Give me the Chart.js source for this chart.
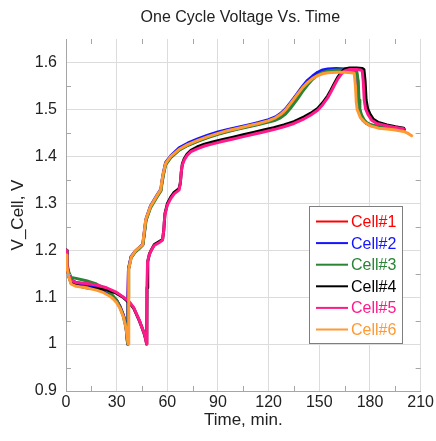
<!DOCTYPE html>
<html><head><meta charset="utf-8">
<script src="https://cdn.jsdelivr.net/npm/chart.js@4/dist/chart.umd.min.js"></script>
<style>html,body{margin:0;padding:0;background:#fff}canvas{display:block}</style>
</head><body>
<canvas id="c" width="436" height="441"></canvas>
<script>
const chartTitle = 'One Cycle Voltage Vs. Time';
const seriesLabels = ['Cell#1','Cell#2','Cell#3','Cell#4','Cell#5','Cell#6'];
const seriesColors = ['#ff0000','#1414ff','#2a8436','#000000','#ff1a8c','#ff9933'];
const xTicks = [0,30,60,90,120,150,180,210];
const yTicks = [0.9,1,1.1,1.2,1.3,1.4,1.5,1.6];

const cell1 = [[0,1.2],[0.5,1.17],[1.5,1.15],[3,1.136],[6,1.13],[12,1.127],[18,1.121],[22,1.115],[26,1.107],[28,1.1],[30,1.093],[32,1.08],[34,1.062],[35.5,1.04],[36.5,1.0],[36.7,1.1],[37,1.16],[38.5,1.185],[41,1.197],[43.5,1.205],[45.5,1.212],[46.3,1.235],[47.3,1.264],[50,1.292],[54,1.316],[56.2,1.328],[56.8,1.345],[57.7,1.363],[59,1.384],[62,1.398],[67,1.414],[72,1.424],[78,1.433],[84,1.441],[90,1.448],[96,1.454],[102,1.459],[108,1.464],[114,1.469],[120,1.475],[124,1.481],[127,1.488],[130,1.498],[133,1.512],[137,1.531],[140,1.546],[143,1.559],[146,1.568],[149,1.576],[152,1.581],[155,1.583],[160,1.584],[165,1.584],[169,1.582],[172,1.58],[172.8,1.56],[173.3,1.52],[173.8,1.5],[174.8,1.486],[176,1.477],[178,1.47],[180,1.466],[184,1.463],[188,1.461],[192,1.46],[196,1.459],[200.5,1.457]];
const cell2 = [[0,1.2],[0.5,1.17],[1.5,1.15],[3,1.137],[6,1.131],[12,1.127],[18,1.121],[22,1.116],[26,1.108],[28,1.1],[30,1.093],[32,1.08],[34,1.061],[35.5,1.04],[36.5,1.0],[36.7,1.1],[37,1.16],[38.5,1.186],[41,1.198],[43.5,1.206],[45.5,1.213],[46.3,1.237],[47.3,1.266],[50,1.294],[54,1.318],[56.2,1.33],[56.8,1.347],[57.7,1.366],[59,1.387],[62,1.401],[67,1.418],[72,1.428],[78,1.437],[84,1.445],[90,1.452],[96,1.457],[102,1.462],[108,1.467],[114,1.472],[120,1.478],[124,1.484],[127,1.491],[130,1.501],[133,1.515],[137,1.534],[140,1.549],[143,1.562],[146,1.571],[149,1.579],[152,1.584],[155,1.586],[160,1.587],[165,1.586],[169,1.584],[171.8,1.581],[172.5,1.56],[173,1.52],[173.5,1.5],[174.5,1.486],[176,1.476],[178,1.47],[180,1.467],[184,1.464],[188,1.462],[192,1.461],[196,1.46],[198.5,1.459]];
const cell3 = [[0,1.2],[0.5,1.175],[1.5,1.155],[3,1.142],[6,1.14],[12,1.135],[18,1.128],[22,1.12],[26,1.11],[28,1.102],[30,1.093],[32,1.078],[34,1.058],[35.5,1.035],[36.6,1.0],[36.8,1.1],[37.1,1.16],[38.6,1.184],[41,1.196],[43.5,1.204],[45.5,1.211],[46.4,1.234],[47.4,1.263],[50,1.29],[54,1.314],[56.3,1.327],[56.9,1.344],[57.8,1.362],[59,1.382],[62,1.397],[67,1.413],[72,1.423],[78,1.432],[84,1.44],[90,1.447],[96,1.453],[102,1.458],[108,1.463],[114,1.468],[120,1.473],[124,1.477],[127,1.482],[130,1.49],[133,1.503],[137,1.522],[140,1.538],[143,1.552],[146,1.564],[149,1.573],[152,1.579],[155,1.582],[160,1.584],[165,1.584],[169,1.582],[172.2,1.58],[173,1.56],[173.5,1.52],[174,1.501],[175,1.488],[176.5,1.478],[178,1.472],[180,1.468],[184,1.464],[188,1.462],[192,1.46],[196,1.459],[200,1.458]];
const cell4 = [[0,1.2],[0.5,1.168],[1.5,1.145],[3,1.13],[6,1.125],[12,1.12],[18,1.118],[24,1.116],[30,1.108],[34,1.099],[37.5,1.088],[40,1.077],[43.4,1.05],[45,1.035],[46.3,1.022],[47.2,1.01],[47.8,1.0],[48,1.12],[48.4,1.176],[49.4,1.192],[50.6,1.201],[52.3,1.212],[55,1.218],[57.2,1.223],[57.9,1.243],[58.6,1.278],[60,1.299],[62,1.313],[64,1.323],[66.9,1.331],[67.7,1.343],[68.3,1.368],[68.9,1.384],[70,1.395],[71.7,1.405],[74,1.413],[77.6,1.42],[82,1.426],[87.4,1.431],[93,1.436],[99,1.441],[105,1.446],[111,1.451],[117,1.456],[123,1.461],[129,1.467],[135,1.474],[141,1.484],[145,1.492],[149,1.502],[152,1.514],[155,1.529],[157,1.542],[159,1.556],[161,1.569],[163,1.579],[165,1.586],[168,1.588],[172,1.588],[175.5,1.587],[176.4,1.585],[177.1,1.56],[177.7,1.52],[178.6,1.502],[180,1.49],[182,1.479],[185,1.472],[190,1.467],[195,1.463],[200,1.46]];
const cell5 = [[0,1.2],[0.5,1.17],[1.5,1.15],[3,1.136],[6,1.131],[12,1.129],[18,1.126],[24,1.12],[30,1.11],[34,1.1],[37.5,1.09],[40,1.078],[43.4,1.051],[45,1.035],[46.3,1.023],[47.2,1.01],[47.7,1.0],[47.9,1.12],[48.3,1.175],[49.3,1.19],[50.5,1.2],[52.2,1.21],[55,1.216],[57.1,1.221],[57.8,1.24],[58.5,1.275],[60,1.296],[62,1.31],[64,1.32],[66.9,1.328],[67.6,1.34],[68.2,1.365],[68.8,1.381],[70,1.392],[71.7,1.402],[74,1.41],[77.6,1.416],[82,1.422],[87.4,1.427],[93,1.432],[99,1.437],[105,1.442],[111,1.447],[117,1.452],[123,1.457],[129,1.463],[135,1.47],[141,1.48],[145,1.488],[149,1.498],[152,1.51],[155,1.525],[157,1.538],[159,1.552],[161,1.565],[163,1.575],[165,1.582],[168,1.585],[172,1.585],[174.6,1.584],[175.4,1.582],[176,1.56],[176.6,1.52],[177.4,1.501],[179,1.488],[181,1.477],[184,1.47],[189,1.466],[194,1.462],[199.8,1.459]];
const cell6 = [[0,1.19],[0.5,1.165],[1.5,1.145],[3,1.128],[6,1.123],[12,1.12],[18,1.115],[22,1.11],[26,1.102],[28,1.096],[30,1.088],[32,1.076],[34,1.058],[35.5,1.035],[36.8,1.0],[37,1.1],[37.3,1.16],[38.7,1.186],[41,1.198],[43.5,1.206],[45.4,1.212],[46.2,1.236],[47.2,1.265],[50,1.293],[54,1.317],[56.1,1.329],[56.7,1.346],[57.6,1.364],[59,1.385],[62,1.4],[67,1.415],[72,1.425],[78,1.434],[84,1.442],[90,1.449],[96,1.455],[102,1.46],[108,1.465],[114,1.47],[120,1.476],[124,1.482],[127,1.489],[130,1.499],[133,1.513],[137,1.532],[140,1.546],[143,1.557],[146,1.566],[149,1.572],[152,1.576],[155,1.578],[160,1.579],[165,1.579],[169,1.578],[170.7,1.577],[171.4,1.55],[171.9,1.515],[172.4,1.5],[174.4,1.482],[177,1.472],[180.2,1.465],[185,1.46],[190,1.458],[195,1.456],[199.8,1.453],[202,1.45],[204.7,1.444]];

const seriesData = [cell1, cell2, cell3, cell4, cell5, cell6];
const fontFam = '"Liberation Sans", Arial, sans-serif';

const titleAndTicks = {
  id: 'titleAndTicks',
  afterDraw(chart) {
    const {ctx, chartArea: a, scales: {x, y}} = chart;
    ctx.save();
    ctx.strokeStyle = '#a6a6a6';
    ctx.lineWidth = 1;
    ctx.beginPath();
    for (let v = 15; v < 210; v += 30) {
      const px = Math.round(x.getPixelForValue(v)) + 0.5;
      ctx.moveTo(px, a.top); ctx.lineTo(px, a.top + 5);
      ctx.moveTo(px, a.bottom); ctx.lineTo(px, a.bottom - 5);
    }
    for (let k = 0; k < 7; k++) {
      const v = 0.95 + k * 0.1;
      const py = Math.round(y.getPixelForValue(v)) + 0.5;
      ctx.moveTo(a.left, py); ctx.lineTo(a.left + 5, py);
      ctx.moveTo(a.right, py); ctx.lineTo(a.right - 5, py);
    }
    ctx.stroke();
    ctx.fillStyle = '#222';
    ctx.font = '16px ' + fontFam;
    ctx.textAlign = 'center';
    ctx.textBaseline = 'middle';
    ctx.fillText(chartTitle, (a.left + a.right) / 2 - 3, 18);
    ctx.restore();
  }
};

const boxLegend = {
  id: 'boxLegend',
  afterDraw(chart) {
    const ctx = chart.ctx;
    const bx = 309.5, by = 206.5, bw = 93, bh = 137;
    ctx.save();
    ctx.fillStyle = '#fff';
    ctx.fillRect(bx, by, bw, bh);
    ctx.strokeStyle = '#7f7f7f';
    ctx.lineWidth = 1;
    ctx.strokeRect(bx, by, bw, bh);
    ctx.font = '16px ' + fontFam;
    ctx.textBaseline = 'middle';
    chart.data.datasets.forEach((ds, i) => {
      const cy = by + 15 + i * 21.6;
      ctx.strokeStyle = ds.borderColor;
      ctx.lineWidth = 2;
      ctx.beginPath();
      ctx.moveTo(316, cy); ctx.lineTo(348, cy);
      ctx.stroke();
      ctx.fillStyle = ds.borderColor;
      ctx.fillText(ds.label, 351, cy + 1);
    });
    ctx.restore();
  }
};

new Chart(document.getElementById('c'), {
  type: 'line',
  data: {
    datasets: seriesLabels.map((lab, i) => ({
      label: lab,
      data: seriesData[i].map(p => ({x: p[0], y: p[1]})),
      borderColor: seriesColors[i],
      backgroundColor: seriesColors[i],
      borderWidth: 3,
      borderJoinStyle: 'round',
      borderCapStyle: 'round',
      pointRadius: 0,
      fill: false,
      tension: 0,
      order: seriesLabels.length - 1 - i
    }))
  },
  options: {
    responsive: false,
    animation: false,
    layout: {padding: {left: 0, right: 12, top: 39, bottom: 0}},
    plugins: {
      legend: {display: false},
      tooltip: {enabled: false},
      title: {display: false}
    },
    scales: {
      x: {
        type: 'linear',
        min: 0, max: 210,
        afterBuildTicks: s => { s.ticks = xTicks.map(v => ({value: v})); },
        ticks: {color: '#222', font: {family: fontFam, size: 16}, padding: 2, maxRotation: 0, autoSkip: false},
        grid: {color: '#dcdcdc', drawTicks: false},
        border: {color: '#a6a6a6'},
        title: {display: true, text: 'Time, min.', color: '#222', font: {family: fontFam, size: 17}, padding: {top: 2, bottom: 10}},
        afterFit: s => { s.height = 50; }
      },
      y: {
        type: 'linear',
        min: 0.9, max: 1.65,
        afterBuildTicks: s => { s.ticks = yTicks.map(v => ({value: v})); },
        ticks: {color: '#222', font: {family: fontFam, size: 16}, padding: 9,
          callback: v => String(Math.round(v * 10) / 10)},
        grid: {color: '#dcdcdc', drawTicks: false},
        border: {color: '#a6a6a6'},
        title: {display: true, text: 'V_Cell, V', color: '#222', font: {family: fontFam, size: 17}, padding: {top: 8, bottom: 0}},
        afterFit: s => { s.width = 66; }
      }
    }
  },
  plugins: [titleAndTicks, boxLegend]
});
</script>
</body></html>
